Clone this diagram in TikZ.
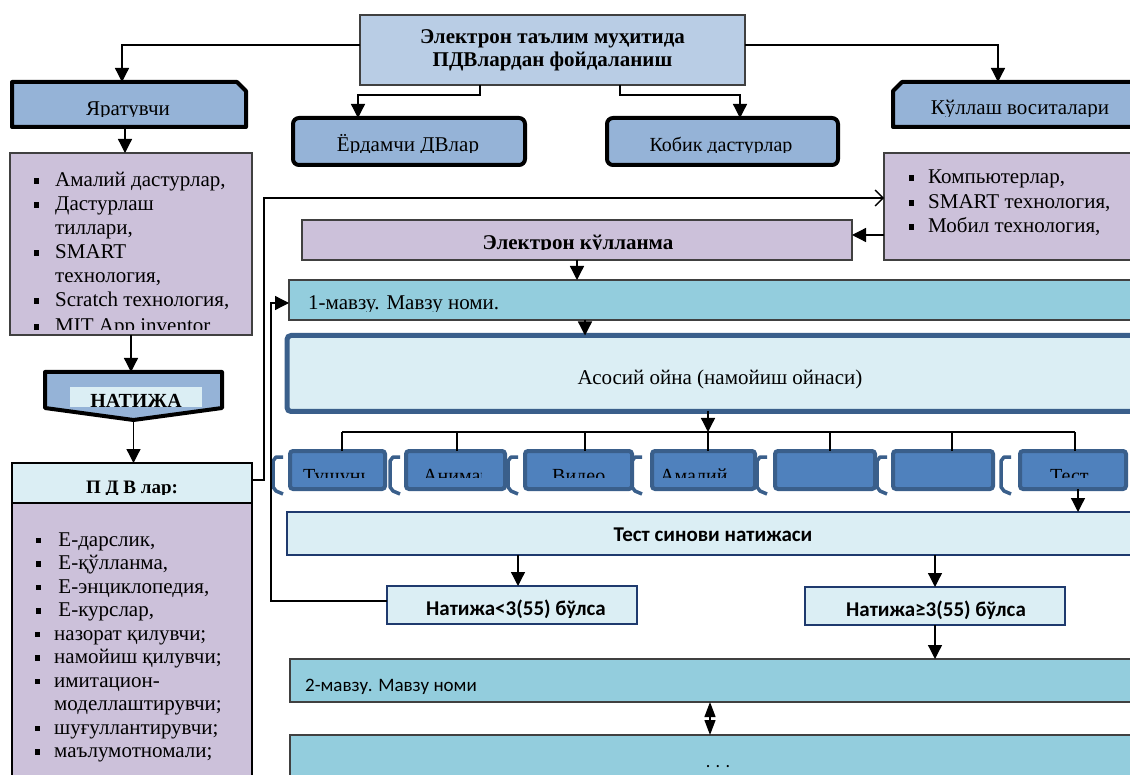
\documentclass[tikz,border=0pt]{standalone}
\usepackage{fontspec}
\setmainfont{Liberation Serif}
\newfontfamily\calfont{Carlito}
\usetikzlibrary{arrows.meta}
\definecolor{mblue}{HTML}{95B3D7}
\definecolor{topfill}{HTML}{B9CDE5}
\definecolor{purp}{HTML}{CCC1DA}
\definecolor{lightc}{HTML}{DBEEF4}
\definecolor{tealc}{HTML}{93CDDD}
\definecolor{tabf}{HTML}{4F81BD}
\definecolor{tabb}{HTML}{3A5F8B}
\definecolor{navyb}{HTML}{1F3A6E}
\definecolor{greyb}{HTML}{404040}
\newcommand{\bul}[1][16pt]{\llap{\rule[3pt]{5.5pt}{5.5pt}\hspace{#1}}}
\tikzset{
  ln/.style={draw=black, line width=1.3pt},
  arr/.style={ln, -{Triangle[length=14pt,width=14pt]}},
  dbl/.style={ln, {Triangle[length=15pt,width=11pt]}-{Triangle[length=15pt,width=11pt]}},
  barb/.style={ln, -{Straight Barb[length=8pt,width=16pt]}},
  geo/.style={inner sep=0pt, outer sep=0pt},
  thickb/.style={draw=black, line width=4pt, line join=round},
  txt/.style={inner sep=0pt, anchor=base, font=\fontsize{20}{24}\selectfont},
  lst/.style={inner sep=0pt, anchor=base west, font=\fontsize{21}{24}\selectfont},
  tabbox/.style={geo, draw=tabb, fill=tabf, line width=4pt, rounded corners=3pt, minimum height=38pt},
  brk/.style={draw=tabb, line width=3.5pt, line join=round},
}
\begin{document}
\begin{tikzpicture}[x=1pt,y=-1pt]
\useasboundingbox[fill=white] (0,0) rectangle (1130,775);

% ---------- top ----------
\node[geo, draw=greyb, fill=topfill, line width=1.5pt, minimum width=385pt, minimum height=70pt,
      align=center, font=\bfseries\fontsize{21}{23}\selectfont] (top) at (552.5,50)
      {Электрон таълим муҳитида\\ПДВлардан фойдаланиш};

% Яратувчи
\node[geo, minimum width=234pt, minimum height=45pt] (yar) at (129,104.5) {};
\draw[thickb, fill=mblue] (yar.south west) -- (yar.north west) -- ([xshift=-9pt]yar.north east)
   -- ([yshift=-9pt]yar.north east) -- (yar.south east) -- cycle;
\begin{scope}\clip (14,84) rectangle (244,116.5);
\node[txt, font=\fontsize{21}{22}\selectfont] (yart) at (128,116) {Яратувчи};
\end{scope}

% Кўллаш воситалари
\node[geo, minimum width=247pt, minimum height=45pt] (kul) at (1016.5,104.5) {};
\draw[thickb, fill=mblue] (kul.south west) -- ([yshift=-9pt]kul.north west) -- ([xshift=9pt]kul.north west)
   -- (kul.north east) -- (kul.south east) -- cycle;
\begin{scope}\clip (895,84) rectangle (1130,117);
\node[txt, font=\fontsize{21}{22}\selectfont] (kult) at (1020,115) {Кўллаш воситалари};
\end{scope}

% Ёрдамчи / Кобик
\node[geo, draw=black, line width=4pt, rounded corners=6pt, fill=mblue, minimum width=232pt, minimum height=47pt] (yor) at (409,141.5) {};
\node[geo, draw=black, line width=4pt, rounded corners=6pt, fill=mblue, minimum width=231pt, minimum height=47pt] (kob) at (722.5,141.5) {};
\begin{scope}\clip (295,120) rectangle (523,152.5);
\node[txt, font=\fontsize{21}{22}\selectfont] (yort) at (408,152) {Ёрдамчи ДВлар};
\end{scope}
\begin{scope}\clip (609,120) rectangle (836,152.5);
\node[txt, font=\fontsize{20}{22}\selectfont] (kobt) at (721,152) {Кобик дастурлар};
\end{scope}

% ---------- left column ----------
\node[geo, draw=greyb, fill=purp, line width=1.5pt, minimum width=242pt, minimum height=182pt] (pl) at (131,244) {};
\begin{scope}\clip (12,155) rectangle (250,330);
\node[lst] (pl1) at (55,187) {\bul Амалий дастурлар,};
\node[lst] (pl2) at (55,211) {\bul Дастурлаш};
\node[lst] (pl3) at (55,235) {тиллари,};
\node[lst] (pl4) at (55,259) {\bul SMART};
\node[lst] (pl5) at (55,283) {технология,};
\node[lst] (pl6) at (55,307) {\bul Scratch технология,};
\node[lst] (pl7) at (55,333) {\bul MIT App inventor};
\end{scope}

\node[geo, minimum width=177pt, minimum height=48pt] (nat) at (133.5,396) {};
\draw[thickb, fill=mblue] (nat.north west) -- (nat.north east) -- ([yshift=12pt]nat.south east)
   -- (nat.south) -- ([yshift=12pt]nat.south west) -- cycle;
\fill[lightc] (70,387) rectangle (202,407);
\begin{scope}\clip (70,387) rectangle (202,406.5);
\node[txt, font=\bfseries\fontsize{20}{22}\selectfont] (natt) at (136,407.5) {НАТИЖА};
\end{scope}

\node[geo, draw=black, fill=lightc, line width=1.3pt, minimum width=240pt, minimum height=40pt] (pdvh) at (132,483) {};
\node[geo, draw=black, fill=purp, line width=1.3pt, minimum width=240pt, minimum height=290pt, anchor=north] (pdvb) at (pdvh.south) {};
\begin{scope}\clip (14,465) rectangle (250,494.5);
\node[txt, font=\bfseries\fontsize{19}{20}\selectfont] (pdvt) at (132,493) {П Д В лар:};
\end{scope}
\node[lst] (q1) at (53,546) {\bul[12pt] Е-дарслик,};
\node[lst] (q2) at (53,569.5) {\bul[12pt] Е-қўлланма,};
\node[lst] (q3) at (53,593) {\bul[12pt] Е-энциклопедия,};
\node[lst] (q4) at (53,616.5) {\bul[12pt] Е-курслар,};
\node[lst] (q5) at (54,640) {\bul[14pt]назорат қилувчи;};
\node[lst] (q6) at (54,663.5) {\bul[14pt]намойиш қилувчи;};
\node[lst] (q7) at (54,687) {\bul[14pt]имитацион-};
\node[lst] (q8) at (54,710.5) {моделлаштирувчи;};
\node[lst] (q9) at (54,734) {\bul[14pt]шуғуллантирувчи;};
\node[lst] (q10) at (54,757.5) {\bul[14pt]маълумотномали;};

% ---------- right column ----------
\node[geo, draw=greyb, fill=purp, line width=1.5pt, minimum width=256pt, minimum height=107pt] (pr) at (1012,206.5) {};
\node[lst] (r1) at (928,184) {\bul[14pt]Компьютерлар,};
\node[lst] (r2) at (928,209) {\bul[14pt]SMART технология,};
\node[lst] (r3) at (928,233) {\bul[14pt]Мобил технология,};

\node[geo, draw=greyb, fill=purp, line width=1.3pt, minimum width=550pt, minimum height=40pt] (ek) at (577,240) {};
\begin{scope}\clip (304,222) rectangle (850,249.5);
\node[txt, font=\bfseries\fontsize{21}{22}\selectfont] (ekt) at (578,250) {Электрон кўлланма};
\end{scope}

\node[geo, draw=greyb, fill=tealc, line width=1.3pt, minimum width=851pt, minimum height=40pt] (m1) at (714.5,300) {};
\begin{scope}\clip (291,282) rectangle (1130,312);
\node[txt, anchor=base west, font=\fontsize{21}{24}\selectfont] (m1t) at (308,310) {1-мавзу. Мавзу номи.};
\end{scope}

\node[geo, draw=tabb, fill=lightc, line width=5pt, rounded corners=4pt, minimum width=853pt, minimum height=76pt] (as) at (713.5,373.5) {};
\node[txt, font=\fontsize{21}{24}\selectfont] (ast) at (720,385) {Асосий ойна (намойиш ойнаси)};

% tabs
\foreach \x in {273,390,508,632,757,877,1001}
  \draw[brk] (\x+10,457) -- (\x+3,457) -- (\x,461) -- (\x,487) -- (\x+3,491) -- (\x+10,494);
\node[tabbox, minimum width=95pt] (t1) at (337.5,470) {};
\node[tabbox, minimum width=99pt] (t2) at (455.5,470) {};
\node[tabbox, minimum width=107pt] (t3) at (578.5,470) {};
\node[tabbox, minimum width=103pt] (t4) at (703.5,470) {};
\node[tabbox, minimum width=100pt] (t5) at (825,470) {};
\node[tabbox, minimum width=100pt] (t6) at (943,470) {};
\node[tabbox, minimum width=106pt] (t7) at (1073,470) {};
\begin{scope}\clip (293,454) rectangle (364,477);
\node[txt, anchor=base west] (t1t) at (303,482) {Тушунча};
\end{scope}
\begin{scope}\clip (409,454) rectangle (481,477);
\node[txt, anchor=base west] (t2t) at (423,482) {Анимация};
\end{scope}
\begin{scope}\clip (528,454) rectangle (629,477);
\node[txt, anchor=base west] (t3t) at (552,482) {Видео};
\end{scope}
\begin{scope}\clip (655,454) rectangle (752,477);
\node[txt, anchor=base west] (t4t) at (660,482) {Амалий};
\end{scope}
\begin{scope}\clip (1023,454) rectangle (1123,477);
\node[txt, anchor=base west] (t7t) at (1050,482) {Тест};
\end{scope}

\foreach \i/\x in {1/342,2/457,3/585,4/708,5/830,6/952,7/1075}
  \coordinate (b\i) at (\x,432);
\draw[ln] (b1) -- (b7);
\foreach \i in {1,...,7} \draw[ln] (b\i) -- (b\i |- t\i.north);

\node[geo, draw=navyb, fill=lightc, line width=1.6pt, minimum width=853pt, minimum height=43pt] (ts) at (713.5,533.5) {};
\node[txt, font=\calfont\bfseries\fontsize{21}{22}\selectfont] (tst) at (713,541) {Тест синови натижаси};

\node[geo, draw=navyb, fill=lightc, line width=1.3pt, minimum width=250pt, minimum height=38pt] (n1) at (512,605) {};
\node[geo, draw=navyb, fill=lightc, line width=1.3pt, minimum width=260pt, minimum height=38pt] (n2) at (935,606) {};
\begin{scope}\clip (389,588) rectangle (635,617.5);
\node[txt, font=\calfont\bfseries\fontsize{21}{22}\selectfont] (n1t) at (516,615) {Натижа<3(55) бўлса};
\end{scope}
\begin{scope}\clip (807,589) rectangle (1063,618.5);
\node[txt, font=\calfont\bfseries\fontsize{21}{22}\selectfont] (n2t) at (936,616) {Натижа≥3(55) бўлса};
\end{scope}

\node[geo, draw=greyb, fill=tealc, line width=1.3pt, minimum width=850pt, minimum height=43pt] (m2) at (715,680.5) {};
\node[txt, anchor=base west, font=\calfont\fontsize{19}{22}\selectfont] (m2t) at (305,691) {2-мавзу. Мавзу номи};
\node[geo, draw=greyb, fill=tealc, line width=1.3pt, minimum width=850pt, minimum height=50pt] (dots) at (715,760) {};
\node[txt, font=\calfont\fontsize{18}{20}\selectfont] (dott) at (718,767) {. . .};

% ---------- connectors ----------
\draw[arr] ([yshift=5pt]top.west) -| ([xshift=-7pt]yar.north);
\draw[arr] ([yshift=5pt]top.east) -| ([xshift=-18.5pt]kul.north);
\draw[arr] ([xshift=-72.5pt]top.south) -- ++(0,10) -| ([xshift=-51pt]yor.north);
\draw[arr] ([xshift=67.5pt]top.south) -- ++(0,10) -| ([xshift=17.5pt]kob.north);
\draw[arr] ([xshift=-4pt]yar.south) -- ([xshift=-4pt]yar.south |- pl.north);
\draw[arr] (pl.south) -- (pl.south |- nat.north);
\draw[arr] (nat.south) -- (nat.south |- pdvh.north);
\draw[barb] ([yshift=3pt]pdvh.east) -- ++(12,0) |- ([yshift=8.5pt]pr.west);
\draw[arr] ([yshift=-28.5pt]pr.west) -- ([yshift=-28.5pt]pr.west -| ek.east);
\draw[arr] (ek.south) -- (ek.south |- m1.north);
\draw[arr] ([xshift=-129.5pt]m1.south) -- ([xshift=-129.5pt]m1.south |- as.north);
\draw[arr] (as.south -| b4) -- (b4);
\draw[arr] ([xshift=5pt]t7.south) -- ([xshift=5pt]t7.south |- ts.north);
\draw[arr] ([xshift=6pt]n1.north |- ts.south) -- ([xshift=6pt]n1.north);
\draw[arr] (n2.north |- ts.south) -- (n2.north);
\draw[arr] ([yshift=4pt]n1.west) -- ++(-116,0) |- ([yshift=-3pt]m1.west);
\draw[arr] (n2.south) -- (n2.south |- m2.north);
\draw[dbl] ([xshift=-5pt]m2.south) -- ([xshift=-5pt]m2.south |- dots.north);
\end{tikzpicture}
\end{document}
